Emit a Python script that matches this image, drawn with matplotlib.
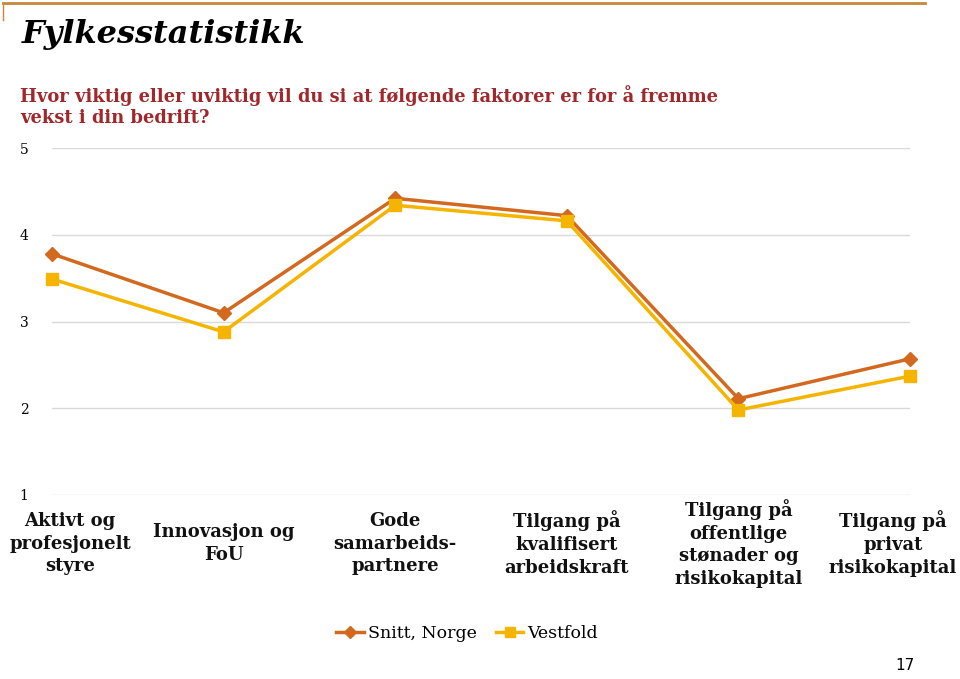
import matplotlib.pyplot as plt
from matplotlib.lines import Line2D
from matplotlib.transforms import blended_transform_factory, offset_copy

# category labels along x axis
categories = ["Aktivt og\nprofesjonelt\nstyre", "Innovasjon og\nFoU", "Gode\nsamarbeids-\npartnere",
              "Tilgang på\nkvalifisert\narbeidskraft", "Tilgang på\noffentlige\nstønader og\nrisikokapital",
              "Tilgang på\nprivat\nrisikokapital"]
snitt_norge = [3.78, 3.10, 4.42, 4.22, 2.11, 2.57]
vestfold = [3.49, 2.88, 4.34, 4.16, 1.98, 2.37]
yticks = [1, 2, 3, 4, 5]

c_norge = "#D2691E"
c_vest = "#F5B400"
serif = ["DejaVu Serif"]

fig = plt.figure(figsize=(9.6, 6.79), dpi=100)
ax = fig.add_axes([52 / 960, 1 - 495 / 679, (910 - 52) / 960, (495 - 148) / 679])

x = list(range(len(categories)))
ax.plot(x, snitt_norge, color=c_norge, lw=2.5, marker="D", ms=7, label="Snitt, Norge", zorder=3, clip_on=False)
ax.plot(x, vestfold, color=c_vest, lw=2.5, marker="s", ms=8, label="Vestfold", zorder=3, clip_on=False)

ax.set_xlim(0, len(categories) - 1)
ax.set_ylim(1, 5)
ax.set_yticks(yticks)
ax.set_yticklabels([str(v) for v in yticks], fontsize=10, family=serif)
ax.tick_params(axis="y", length=0, pad=17)
ax.set_xticks([])
ax.grid(axis="y", color="#D9D9D9", lw=1)
for s in ax.spines.values():
    s.set_visible(False)

# edge labels are pushed inward so they stay on the page
shifts = [18, 0, 0, 0, 0, -17]
trans = blended_transform_factory(ax.transData, ax.transAxes)
for i, lab in enumerate(categories):
    t = offset_copy(trans, fig=fig, x=shifts[i], y=0, units="dots")
    ax.text(i, -0.14, lab, transform=t, ha="center", va="center", fontsize=13,
            fontweight="bold", family=serif, linespacing=1.33, color="#111111")

# legend
handles = [Line2D([], [], color=c_norge, lw=2.5, marker="D", ms=6),
           Line2D([], [], color=c_vest, lw=2.5, marker="s", ms=7)]
fig.legend(handles, ["Snitt, Norge", "Vestfold"], loc="center", bbox_to_anchor=(467 / 960, 1 - 634 / 679),
           ncol=2, frameon=False, prop={"family": serif, "size": 12.5}, handlelength=1.6,
           handletextpad=0.2, columnspacing=1.1)

# titles
fig.text(22 / 960, 1 - 35 / 679, "Fylkesstatistikk", fontsize=23, fontweight="bold", fontstyle="italic",
         family=serif, va="center", ha="left")
fig.text(20 / 960, 1 - 106 / 679, "Hvor viktig eller uviktig vil du si at følgende faktorer er for å fremme\nvekst i din bedrift?",
         fontsize=12.85, fontweight="bold", family=serif, color="#A0282A", va="center", ha="left", linespacing=1.25)
fig.text(905 / 960, 1 - 673 / 679, "17", fontsize=11, va="bottom", ha="center")

# top border
fig.add_artist(Line2D([3 / 960, 925 / 960], [1 - 3 / 679, 1 - 3 / 679], color="#C8873A", lw=2))
fig.add_artist(Line2D([3 / 960, 3 / 960], [1 - 3 / 679, 1 - 20 / 679], color="#C8873A", lw=1))

fig.savefig("out.png", dpi=100)
